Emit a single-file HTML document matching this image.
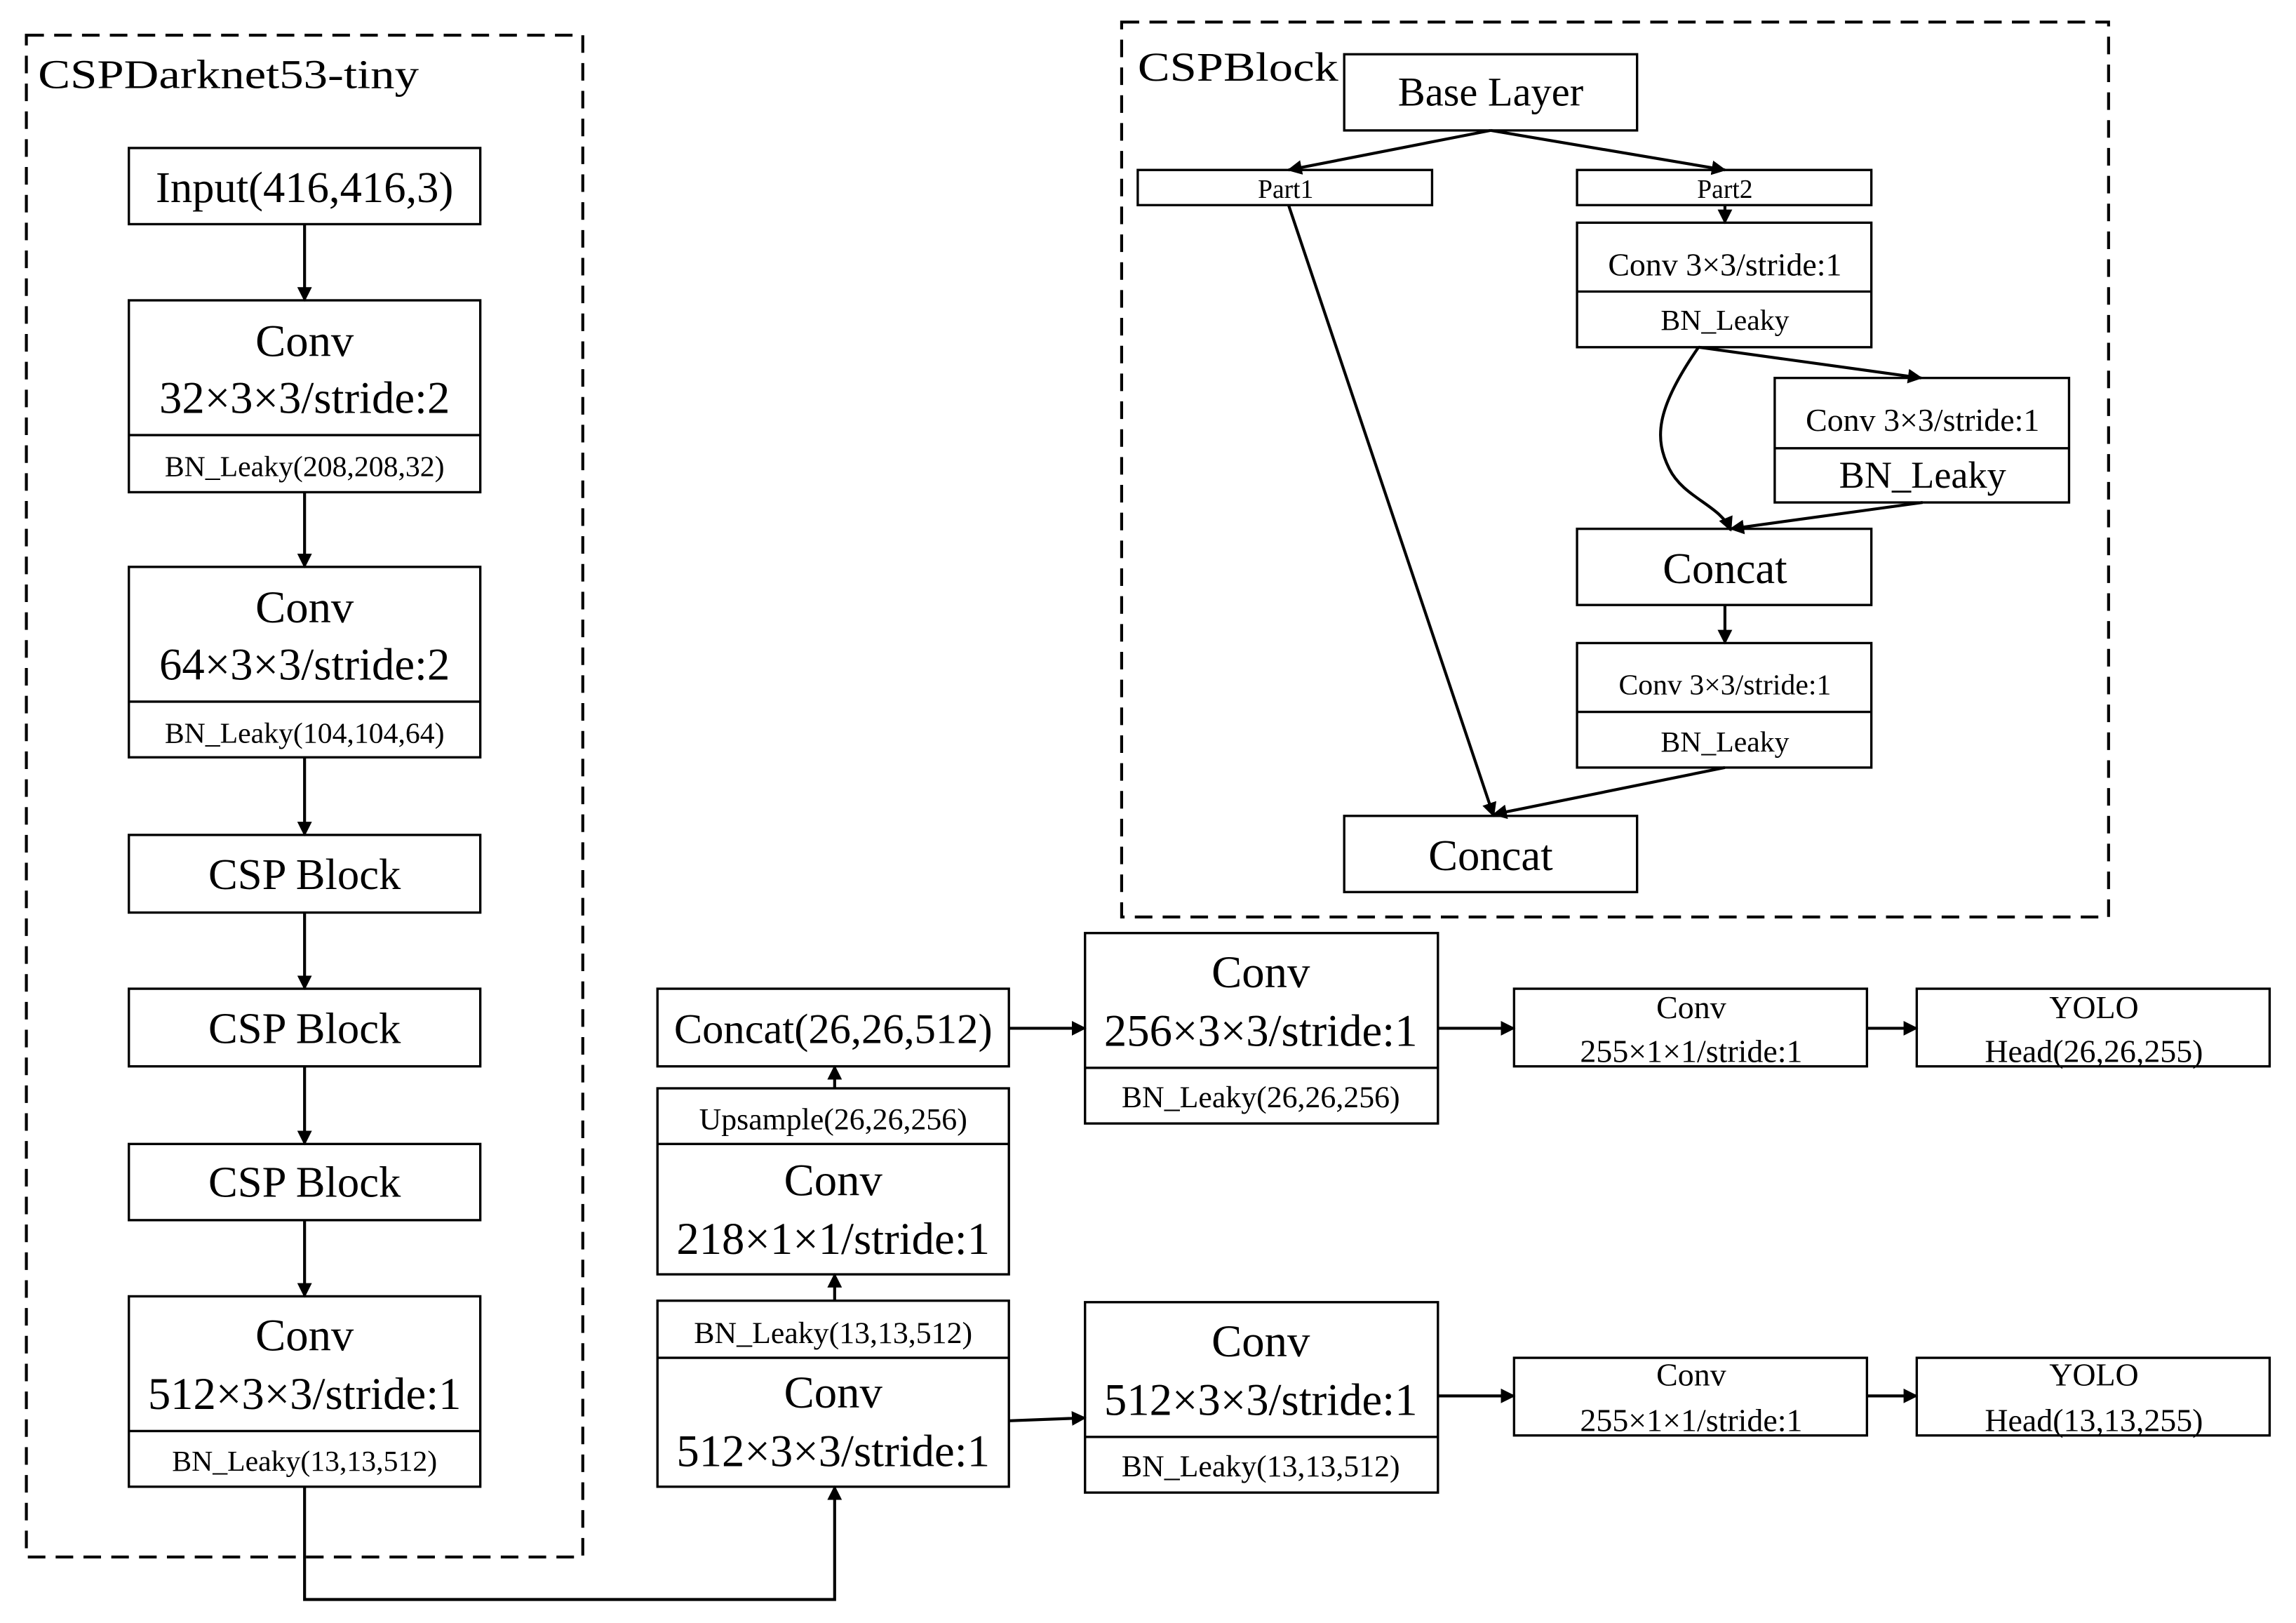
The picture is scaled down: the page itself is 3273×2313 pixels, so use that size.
<!DOCTYPE html>
<html><head><meta charset="utf-8"><style>
html,body{margin:0;padding:0;background:#fff;}
svg{display:block;}
text{font-family:"Liberation Serif",serif;fill:#000;}
</style></head><body>
<svg width="3273" height="2313" viewBox="0 0 1568 1108" xmlns="http://www.w3.org/2000/svg">
<defs><marker id="a" markerWidth="10" markerHeight="10" refX="9" refY="5" orient="auto" markerUnits="userSpaceOnUse"><path d="M0,0 L10,5 L0,10 z" fill="#000"/></marker></defs>
<rect width="1568" height="1108" fill="#fff"/>
<g fill="none" stroke="#000" stroke-width="2" stroke-dasharray="12,7">
<rect x="18" y="24" width="380" height="1039"/>
<rect x="766" y="15" width="674" height="611"/>
</g>
<text x="26" y="60" font-size="28" textLength="260" lengthAdjust="spacingAndGlyphs" font-family="Liberation Serif">CSPDarknet53-tiny</text>
<text x="777" y="55" font-size="28" textLength="137" lengthAdjust="spacingAndGlyphs" font-family="Liberation Serif">CSPBlock</text>
<g fill="#fff" stroke="#000" stroke-width="1.6">
<rect x="88" y="101" width="240" height="52"/>
<rect x="88" y="205" width="240" height="131"/><line x1="88" y1="297" x2="328" y2="297"/>
<rect x="88" y="387" width="240" height="130"/><line x1="88" y1="479" x2="328" y2="479"/>
<rect x="88" y="570" width="240" height="53"/>
<rect x="88" y="675" width="240" height="53"/>
<rect x="88" y="781" width="240" height="52"/>
<rect x="88" y="885" width="240" height="130"/><line x1="88" y1="977" x2="328" y2="977"/>
<rect x="449" y="675" width="240" height="53"/>
<rect x="449" y="743" width="240" height="127"/><line x1="449" y1="781" x2="689" y2="781"/>
<rect x="449" y="888" width="240" height="127"/><line x1="449" y1="927" x2="689" y2="927"/>
<rect x="741" y="637" width="241" height="130"/><line x1="741" y1="729" x2="982" y2="729"/>
<rect x="741" y="889" width="241" height="130"/><line x1="741" y1="981" x2="982" y2="981"/>
<rect x="1034" y="675" width="241" height="53"/>
<rect x="1309" y="675" width="241" height="53"/>
<rect x="1034" y="927" width="241" height="53"/>
<rect x="1309" y="927" width="241" height="53"/>
<rect x="918" y="37" width="200" height="52"/>
<rect x="777" y="116" width="201" height="24"/>
<rect x="1077" y="116" width="201" height="24"/>
<rect x="1077" y="152" width="201" height="85"/><line x1="1077" y1="199" x2="1278" y2="199"/>
<rect x="1212" y="258" width="201" height="85"/><line x1="1212" y1="306" x2="1413" y2="306"/>
<rect x="1077" y="361" width="201" height="52"/>
<rect x="1077" y="439" width="201" height="85"/><line x1="1077" y1="486" x2="1278" y2="486"/>
<rect x="918" y="557" width="200" height="52"/>
</g>
<g fill="none" stroke="#000" stroke-width="2" marker-end="url(#a)">
<line x1="208" y1="153" x2="208" y2="205"/>
<line x1="208" y1="336" x2="208" y2="387"/>
<line x1="208" y1="517" x2="208" y2="570"/>
<line x1="208" y1="623" x2="208" y2="675"/>
<line x1="208" y1="728" x2="208" y2="781"/>
<line x1="208" y1="833" x2="208" y2="885"/>
<polyline points="208,1015 208,1092 570,1092 570,1015"/>
<line x1="570" y1="743" x2="570" y2="728"/>
<line x1="570" y1="888" x2="570" y2="870"/>
<line x1="689" y1="702" x2="741" y2="702"/>
<line x1="689" y1="970" x2="741" y2="968"/>
<line x1="982" y1="702" x2="1034" y2="702"/>
<line x1="982" y1="953" x2="1034" y2="953"/>
<line x1="1275" y1="702" x2="1309" y2="702"/>
<line x1="1275" y1="953" x2="1309" y2="953"/>
<line x1="1018" y1="89" x2="880" y2="116"/>
<line x1="1018" y1="89" x2="1178" y2="116"/>
<line x1="1178" y1="140" x2="1178" y2="152"/>
<line x1="1160" y1="237" x2="1312" y2="258"/>
<path d="M1160,237 C1130,280 1130,300 1140,320 C1150,340 1175,345 1182,362"/>
<line x1="1313" y1="343" x2="1182" y2="361"/>
<line x1="1178" y1="413" x2="1178" y2="439"/>
<line x1="880" y1="140" x2="1020" y2="557"/>
<line x1="1178" y1="524" x2="1020" y2="556"/>
</g>
<g text-anchor="middle">
<text x="208" y="138" font-size="30">Input(416,416,3)</text>
<text x="208" y="243" font-size="31">Conv</text>
<text x="208" y="282" font-size="31">32×3×3/stride:2</text>
<text x="208" y="325" font-size="20">BN_Leaky(208,208,32)</text>
<text x="208" y="425" font-size="31">Conv</text>
<text x="208" y="464" font-size="31">64×3×3/stride:2</text>
<text x="208" y="507" font-size="20">BN_Leaky(104,104,64)</text>
<text x="208" y="607" font-size="30">CSP Block</text>
<text x="208" y="712" font-size="30">CSP Block</text>
<text x="208" y="817" font-size="30">CSP Block</text>
<text x="208" y="922" font-size="31">Conv</text>
<text x="208" y="962" font-size="31">512×3×3/stride:1</text>
<text x="208" y="1004" font-size="20">BN_Leaky(13,13,512)</text>
<text x="569" y="712" font-size="29">Concat(26,26,512)</text>
<text x="569" y="771" font-size="21">Upsample(26,26,256)</text>
<text x="569" y="816" font-size="31">Conv</text>
<text x="569" y="856" font-size="31">218×1×1/stride:1</text>
<text x="569" y="917" font-size="21">BN_Leaky(13,13,512)</text>
<text x="569" y="961" font-size="31">Conv</text>
<text x="569" y="1001" font-size="31">512×3×3/stride:1</text>
<text x="861" y="674" font-size="31">Conv</text>
<text x="861" y="714" font-size="31">256×3×3/stride:1</text>
<text x="861" y="756" font-size="21">BN_Leaky(26,26,256)</text>
<text x="861" y="926" font-size="31">Conv</text>
<text x="861" y="966" font-size="31">512×3×3/stride:1</text>
<text x="861" y="1008" font-size="21">BN_Leaky(13,13,512)</text>
<text x="1155" y="695" font-size="22">Conv</text>
<text x="1155" y="725" font-size="22">255×1×1/stride:1</text>
<text x="1430" y="695" font-size="22">YOLO</text>
<text x="1430" y="725" font-size="22">Head(26,26,255)</text>
<text x="1155" y="946" font-size="22">Conv</text>
<text x="1155" y="977" font-size="22">255×1×1/stride:1</text>
<text x="1430" y="946" font-size="22">YOLO</text>
<text x="1430" y="977" font-size="22">Head(13,13,255)</text>
<text x="1018" y="72" font-size="28">Base Layer</text>
<text x="878" y="135" font-size="18">Part1</text>
<text x="1178" y="135" font-size="18">Part2</text>
<text x="1178" y="188" font-size="22">Conv 3×3/stride:1</text>
<text x="1178" y="225" font-size="20">BN_Leaky</text>
<text x="1313" y="294" font-size="22">Conv 3×3/stride:1</text>
<text x="1313" y="333" font-size="26">BN_Leaky</text>
<text x="1178" y="398" font-size="30">Concat</text>
<text x="1178" y="474" font-size="20">Conv 3×3/stride:1</text>
<text x="1178" y="513" font-size="20">BN_Leaky</text>
<text x="1018" y="594" font-size="30">Concat</text>
</g>
</svg>
</body></html>
